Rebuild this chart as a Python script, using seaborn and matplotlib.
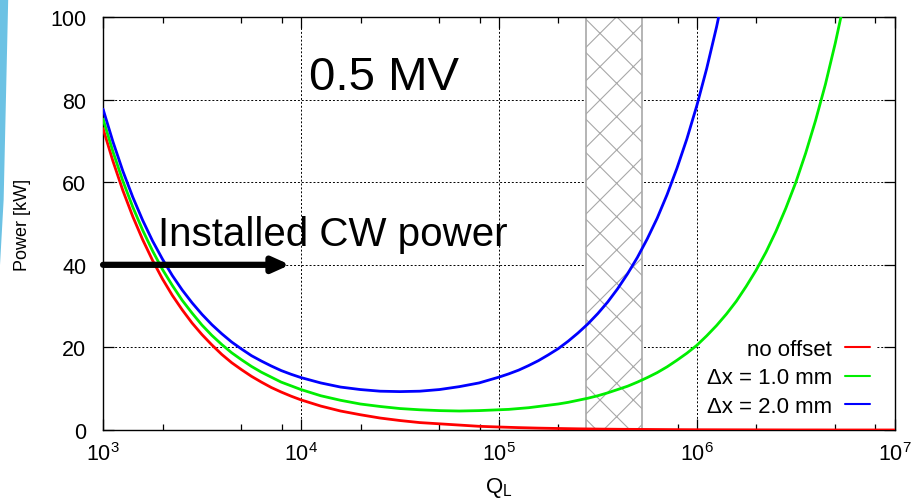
import numpy as np
import pandas as pd
import seaborn as sns
import matplotlib
matplotlib.use("Agg")
import matplotlib.pyplot as plt
from matplotlib.patches import Polygon
from matplotlib.ticker import LogLocator, NullFormatter

# Q_L sample points: fine steps (0.05 decade) and coarse steps (0.1 decade) per decade
fine = [1.000, 1.122, 1.259, 1.413, 1.585, 1.778, 1.995, 2.239, 2.512, 2.818,
        3.162, 3.548, 3.981, 4.467, 5.012, 5.623, 6.310, 7.079, 7.943, 8.913]
coarse = [1.000, 1.259, 1.585, 1.995, 2.512, 3.162, 3.981, 5.012, 6.310, 7.943]

q_red = ([m * 1e3 for m in fine] + [m * 1e4 for m in coarse] + [m * 1e5 for m in coarse]
         + [m * 1e6 for m in coarse] + [1e7])
q_green = [m * 1e3 for m in fine] + [m * 1e4 for m in coarse] + [m * 1e5 for m in fine] + [m * 1e6 for m in fine[:16]]
q_blue = [m * 1e3 for m in fine] + [m * 1e4 for m in coarse] + [m * 1e5 for m in fine] + [m * 1e6 for m in fine[:4]]

# power [kW]
p_no_offset = [
    73.0, 65.1, 58.0, 51.7, 46.1, 41.1, 36.6, 32.6, 29.1, 25.9,
    23.1, 20.6, 18.3, 16.3, 14.6, 13.0, 11.6, 10.3, 9.2, 8.2,
    7.3, 5.8, 4.6, 3.7, 2.9, 2.3, 1.8, 1.5, 1.2, 0.9,
    0.73, 0.58, 0.46, 0.37, 0.29, 0.23, 0.18, 0.15, 0.12, 0.09,
    0.07, 0.06, 0.05, 0.04, 0.03, 0.02, 0.02, 0.01, 0.01, 0.01,
    0.01,
]
p_dx_1mm = [
    75.3, 67.4, 60.3, 54.0, 48.4, 43.4, 38.9, 35.0, 31.4, 28.3,
    25.4, 22.9, 20.7, 18.7, 17.0, 15.4, 14.0, 12.8, 11.6, 10.7,
    9.8, 8.3, 7.2, 6.3, 5.7, 5.2, 4.9, 4.7, 4.6, 4.7,
    4.9, 5.0, 5.2, 5.4, 5.7, 6.0, 6.3, 6.7, 7.2, 7.7,
    8.3, 9.0, 9.8, 10.6, 11.6, 12.7, 13.9, 15.3, 16.9, 18.6,
    20.5, 22.8, 25.3, 28.1, 31.2, 34.8, 38.7, 43.1, 48.1, 53.7,
    59.9, 67.0, 74.9, 83.7, 93.7, 104.8,
]
p_dx_2mm = [
    77.7, 69.8, 62.7, 56.4, 50.8, 45.8, 41.4, 37.4, 33.9, 30.8,
    28.0, 25.5, 23.3, 21.3, 19.6, 18.0, 16.7, 15.5, 14.4, 13.5,
    12.7, 11.4, 10.4, 9.8, 9.4, 9.3, 9.4, 9.8, 10.5, 11.4,
    12.8, 13.6, 14.5, 15.6, 16.8, 18.2, 19.7, 21.5, 23.5, 25.7,
    28.2, 31.0, 34.2, 37.8, 41.8, 46.3, 51.3, 57.0, 63.4, 70.5,
    78.5, 87.5, 97.6, 109.0,
]
series_names = ["no offset", "Δx = 1.0 mm", "Δx = 2.0 mm"]
series_colors = ["#ff0000", "#00ee00", "#0000ff"]

band_q = [2.77e5, 5.27e5]
arrow_q = [1.0e3, 8.8e3]
arrow_p = 40
xtick_values = [1e3, 1e4, 1e5, 1e6, 1e7]
xtick_labels = ["$10^3$", "$10^4$", "$10^5$", "$10^6$", "$10^7$"]
ytick_values = [0, 20, 40, 60, 80, 100]

frames = []
for name, qs, vals in zip(series_names, [q_red, q_green, q_blue], [p_no_offset, p_dx_1mm, p_dx_2mm]):
    frames.append(pd.DataFrame({"Q": qs, "P": vals, "series": name}))
df = pd.concat(frames, ignore_index=True)

sns.set_style("ticks")
plt.rcParams["font.family"] = ["Liberation Sans", "DejaVu Sans"]
plt.rcParams["mathtext.default"] = "regular"
plt.rcParams["hatch.linewidth"] = 0.8
for key in ["text.color", "axes.labelcolor", "xtick.color", "ytick.color"]:
    plt.rcParams[key] = "black"

fig = plt.figure(figsize=(9.12, 5.02), dpi=100)
ax = fig.add_axes([0.113, 0.1414, 0.868, 0.8227])

# slide decoration on the left edge
fig.patches.append(Polygon([[0, 1], [0.009, 1], [0.004, 0.6], [0, 0.47]], closed=True,
                           transform=fig.transFigure, facecolor="#6cc2e4", edgecolor="none"))

ax.axvspan(band_q[0], band_q[1], facecolor="white", edgecolor="#a8a8a8",
           hatch="x", lw=1.2, zorder=1.5)

sns.lineplot(data=df, x="Q", y="P", hue="series", hue_order=series_names,
             palette=series_colors, linewidth=2.0, ax=ax, zorder=3, sort=False)

ax.set_xscale("log")
ax.set_xlim(1e3, 1e7)
ax.set_ylim(0, 100)
ax.set_xticks(xtick_values)
ax.set_xticklabels(xtick_labels)
ax.xaxis.set_minor_locator(LogLocator(base=10, subs=[2, 5, 8]))
ax.xaxis.set_minor_formatter(NullFormatter())
ax.set_yticks(ytick_values)
ax.tick_params(axis="both", which="major", direction="in", length=8, width=0.9,
               labelsize=15.5, top=True, right=True, pad=9)
ax.tick_params(axis="x", which="minor", direction="in", length=4, width=0.9,
               top=True, bottom=True)
ax.tick_params(axis="y", which="major", pad=12)
for sp in ax.spines.values():
    sp.set_linewidth(1.0)
    sp.set_color("black")

ax.set_axisbelow(True)
ax.grid(True, which="major", color="black", linestyle=(0, (2, 2)), linewidth=0.7)

ax.set_xlabel("Q$_{L}$", fontsize=16, labelpad=7)
ax.set_ylabel("Power [kW]", fontsize=13, labelpad=14)

ax.text(1.1e4, 85.5, "0.5 MV", fontsize=34, ha="left", va="center")
ax.text(1.9e3, 47.5, "Installed CW power", fontsize=29, ha="left", va="center")
ax.annotate("", xy=(arrow_q[1], arrow_p), xytext=(arrow_q[0], arrow_p),
            arrowprops=dict(arrowstyle="-|>,head_length=1.0,head_width=0.45",
                            color="black", lw=4.5, shrinkA=0, shrinkB=0),
            zorder=5, annotation_clip=False)

handles, labels = ax.get_legend_handles_labels()
leg = ax.legend(handles, labels, loc="center right", bbox_to_anchor=(0.977, 0.126),
                fontsize=16, markerfirst=False, frameon=True, framealpha=1,
                facecolor="white", edgecolor="none", fancybox=False,
                handlelength=1.1, handletextpad=0.6, labelspacing=0.34,
                borderpad=0.3, borderaxespad=0)
leg.set_zorder(2.5)
for line in leg.get_lines():
    line.set_linewidth(1.5)

fig.savefig("out.png", dpi=100)
